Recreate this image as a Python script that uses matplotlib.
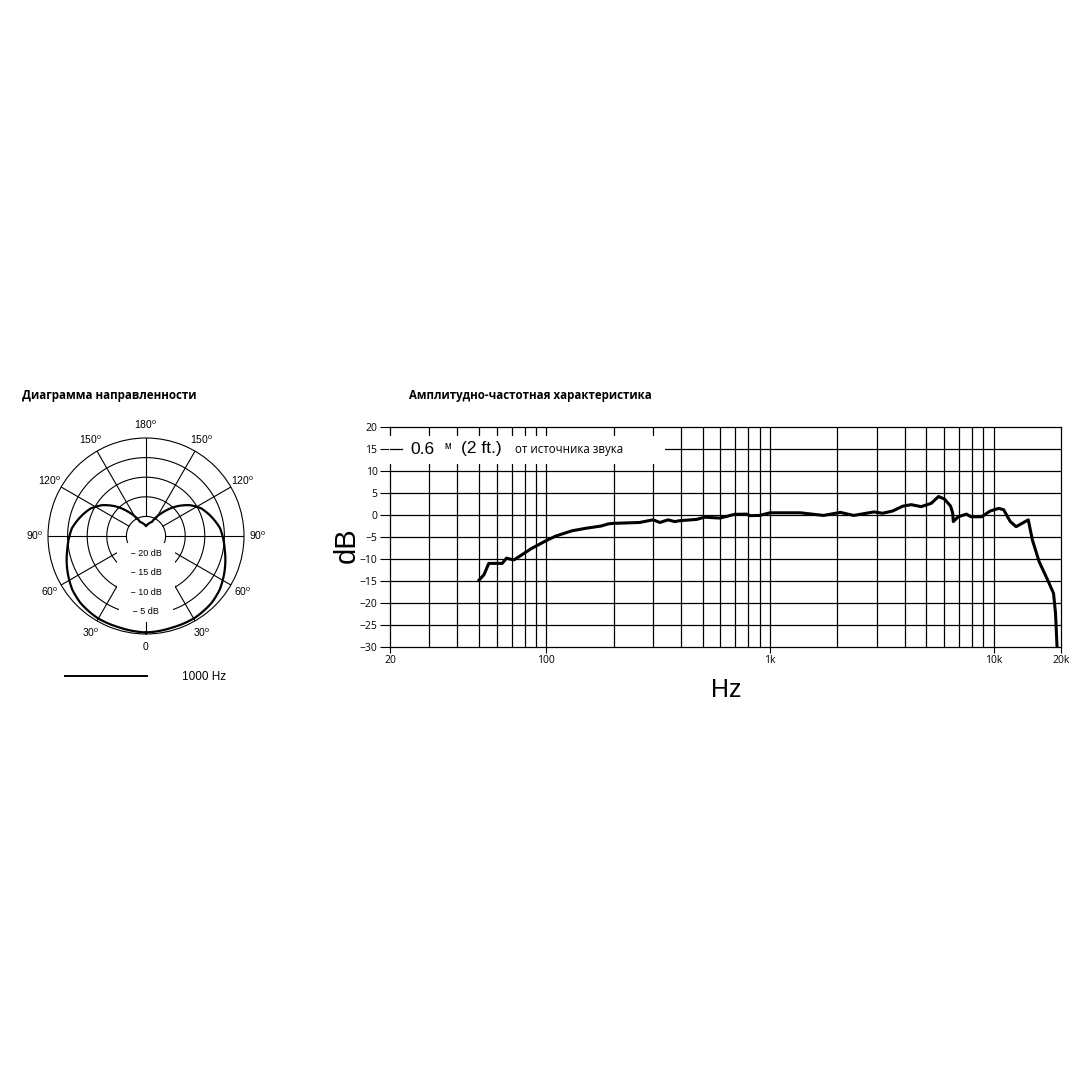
import numpy as np
import matplotlib.pyplot as plt
from matplotlib.patches import Rectangle
from matplotlib.lines import Line2D
from matplotlib.ticker import NullLocator

plt.rcParams['font.family'] = ['Liberation Sans', 'DejaVu Sans']
plt.rcParams['mathtext.fontset'] = 'custom'
plt.rcParams['mathtext.rm'] = 'Liberation Sans'

# polar pattern at 1000 Hz (half, mirrored for the other side)
polar_deg = [0, 15.7, 30.9, 44.4, 54, 66.8, 80, 96, 106.3, 116.3, 125, 134, 143.9, 157.2, 180]
polar_db = [-0.4, -0.7, -0.7, -1.1, -1.75, -3.15, -4.6, -6.0, -7.6, -9.2, -11.3, -14.1, -17.4, -21.1, -22.5]
ring_db = [-20, -15, -10, -5]
angle_labels = ['0', '30', '60', '90', '120', '150', '180', '150', '120', '90', '60', '30']

# frequency response
freq_hz = [50, 52.6, 55.3, 59.8, 63.5, 66.4, 68.5, 71.7, 77.4, 85.9, 101, 110, 130, 151, 176,
           190, 200, 261, 300, 322, 350, 375, 394, 470, 510, 597, 695, 787, 813, 898, 1000,
           1367, 1737, 2063, 2365, 2916, 3184, 3532, 3920, 4275, 4740, 5257, 5670, 6035,
           6420, 6560, 6600, 6940, 7560, 7910, 8840, 9640, 10520, 11080, 11870, 12600,
           14280, 14900, 15970, 17440, 18520, 18900, 19200]
level_db = [-14.8, -13.6, -11, -11, -11, -9.8, -10, -10.2, -9.1, -7.6, -5.7, -4.8, -3.6, -3.0, -2.5,
            -2.0, -1.9, -1.7, -1.1, -1.7, -1.1, -1.5, -1.3, -1.0, -0.5, -0.7, 0.15, 0.2, -0.15, -0.1, 0.5,
            0.5, -0.1, 0.6, -0.1, 0.7, 0.4, 0.9, 2.0, 2.35, 1.9, 2.65, 4.2, 3.6,
            2.0, 0.4, -1.5, -0.4, 0.2, -0.4, -0.4, 0.9, 1.5, 1.2, -1.5, -2.65,
            -1.1, -5.7, -10.6, -14.8, -17.8, -22.3, -29.9]
grid_hz = [30, 40, 50, 60, 70, 80, 90, 100, 200, 300, 400, 500, 600, 700, 800, 900,
           1000, 2000, 3000, 4000, 5000, 6000, 7000, 8000, 9000, 10000]
xtick_hz = [20, 100, 1000, 10000, 20000]
xtick_labels = ['20', '100', '1k', '10k', '20k']
ytick_db = list(range(-30, 21, 5))

W = 1080


def fx(px):
    return px / W


def fy(py):
    return 1 - py / W


fig = plt.figure(figsize=(10.8, 10.8), dpi=100)
fig.patch.set_facecolor('white')

# ---------------- polar pattern ----------------
pax = fig.add_axes([fx(48), fy(634), 196 / W, 196 / W], projection='polar')
pax.set_theta_zero_location('S')
pax.set_rlim(-25, 0)
pax.set_xticks([])
pax.set_yticks([])
pax.grid(False)
pax.spines['polar'].set_linewidth(0.8)

t = np.linspace(0, 2 * np.pi, 361)
for r in ring_db:
    pax.plot(t, np.full_like(t, r), color='black', lw=0.8, zorder=1)
for a in range(0, 360, 30):
    pax.plot([np.radians(a)] * 2, [-20, 0], color='black', lw=0.8, zorder=1)

half = np.radians(polar_deg)
theta = np.concatenate([half, 2 * np.pi - half[::-1]])
rad = np.concatenate([polar_db, polar_db[::-1]])
ln, = pax.plot(theta, rad, color='black', lw=1.6, zorder=4, solid_joinstyle='round')
ln.get_path()._interpolation_steps = 30

for r in ring_db:
    pax.text(0, r - 0.65, '   \u2212 %d dB   ' % abs(r), fontsize=6.5, ha='center', va='center',
             zorder=3, bbox=dict(facecolor='white', edgecolor='none', pad=4.2))

for i, lab in enumerate(angle_labels):
    txt = lab if lab == '0' else lab + r'$^{\rm o}$'
    pax.text(np.radians(i * 30), 3.4, txt, fontsize=7.5, ha='center', va='center', clip_on=False)

fig.text(fx(22), fy(395), 'Диаграмма направленности', fontsize=8.4, fontweight='bold',
         family='Open Sans', ha='left', va='center')
fig.add_artist(Line2D([fx(65), fx(147)], [fy(676), fy(676)], color='black', lw=1.4))
fig.text(fx(182), fy(677), '1000 Hz', fontsize=8.5, ha='left', va='center')

# ---------------- frequency response ----------------
ax = fig.add_axes([fx(390), fy(647), 671 / W, 220 / W])
ax.set_xscale('log')
ax.set_xlim(20, 20000)
ax.set_ylim(-30, 20)
for d in ytick_db[1:-1]:
    ax.axhline(d, color='black', lw=0.9, zorder=1)
for f in grid_hz:
    ax.axvline(f, color='black', lw=0.9, zorder=1)
for s in ax.spines.values():
    s.set_linewidth(0.9)

ax.set_yticks(ytick_db)
ax.set_xticks(xtick_hz)
ax.set_xticklabels(xtick_labels)
ax.xaxis.set_minor_locator(NullLocator())
ax.tick_params(axis='y', direction='out', length=7, width=0.8, pad=2, labelsize=7.5)
ax.tick_params(axis='x', direction='out', length=4, width=0.8, pad=2, labelsize=7.5)
for lab in ax.get_xticklabels() + ax.get_yticklabels():
    lab.set_family('Open Sans')

ax.plot(freq_hz, level_db, color='black', lw=2.2, zorder=5, solid_joinstyle='round')

# white label box over the grid
ax.add_patch(Rectangle((fx(389), fy(464)), fx(665) - fx(389), fy(436) - fy(464),
                       transform=fig.transFigure, facecolor='white', edgecolor='none',
                       zorder=3, clip_on=False))
ax.plot([20, 22.7], [15, 15], color='black', lw=0.9, zorder=4, clip_on=False)

fig.text(fx(410), fy(449), '0.6', fontsize=12.5, ha='left', va='center')
fig.text(fx(444), fy(446), 'м', fontsize=7, ha='left', va='center')
fig.text(fx(461), fy(449), '(2 ft.)', fontsize=12.5, ha='left', va='center')
fig.text(fx(515), fy(449), 'от источника звука', fontsize=8.3, family='Open Sans',
         ha='left', va='center')

fig.text(fx(409), fy(395), 'Амплитудно-частотная характеристика', fontsize=8.3,
         fontweight='bold', family='Open Sans', ha='left', va='center')
fig.text(fx(347), fy(545), 'dB', fontsize=21, rotation=90, ha='center', va='center')
fig.text(fx(726), fy(690), 'Hz', fontsize=18, ha='center', va='center')

fig.savefig('out.png', dpi=100, facecolor='white')
